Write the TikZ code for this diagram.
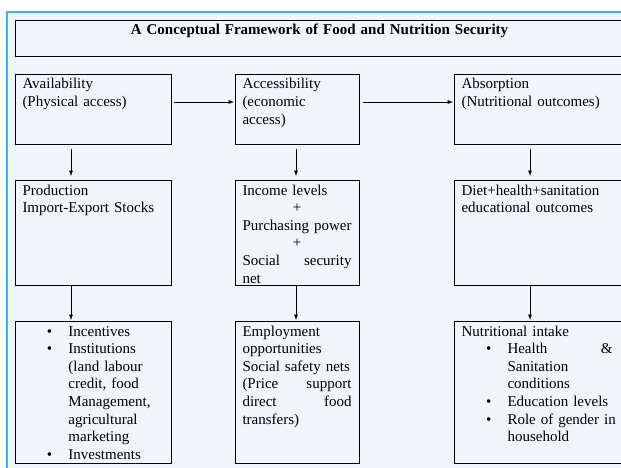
\documentclass[tikz,border=0pt]{standalone}
\usepackage{fontspec}
\setmainfont{Liberation Serif}
\usetikzlibrary{arrows}
\definecolor{frameblue}{HTML}{3FB3E5}
\definecolor{paleblue}{HTML}{EEF6FC}
\newcommand{\cellfont}{\fontsize{15pt}{17.6pt}\selectfont}
\newcommand{\bul}{\makebox[46pt][l]{\hspace*{24.5pt}\textbullet}}
\newcommand{\hang}{\hspace*{46pt}}
\tikzset{
  cell/.style={draw, line width=0.9pt, anchor=north west, outer sep=0pt, align=left,
    inner xsep=7.5pt, inner ysep=4pt, text height=11pt, font=\cellfont},
  flow/.style={line width=0.9pt, -latex},
}
\begin{document}
\begin{tikzpicture}[x=1pt,y=-1pt]
\useasboundingbox (0,0) rectangle (621,468);
\clip (0,0) rectangle (621,468);
\draw [frameblue, line width=1.5pt, fill=paleblue] (7,12) rectangle (640,480);
\node [cell, text width=594pt, text depth=17pt, align=center, font=\cellfont\bfseries] (title) at (15,20)
  {A Conceptual Framework of Food and Nutrition Security};
\node [cell, text width=141pt, text depth=51pt] (avail) at (15,74) {Availability\\(Physical access)};
\node [cell, text width=109pt, text depth=51pt] (access) at (235,74) {Accessibility\\(economic\\access)};
\node [cell, text width=160pt, text depth=51pt] (absorb) at (454,74) {Absorption\\(Nutritional outcomes)};
\node [cell, text width=141pt, text depth=86pt] (prod) at (15,180) {Production\\Import-Export Stocks};
\node [cell, text width=109pt, text depth=86pt] (income) at (235,180)
  {Income levels\\\mbox{}\hfill+\hfill\mbox{}\\\mbox{Purchasing power}\\\mbox{}\hfill+\hfill\mbox{}\\Social\hfill security\\net};
\node [cell, text width=160pt, text depth=86pt] (diet) at (454,180) {Diet+health+sanitation\\educational outcomes};
\node [cell, text width=141pt, text depth=123pt] (incent) at (15,321)
  {\bul Incentives\\\bul Institutions\\\hang(land labour\\\hang credit, food\\\hang Management,\\\hang agricultural\\\hang marketing\\\bul Investments};
\node [cell, text width=109pt, text depth=123pt] (employ) at (235,321)
  {Employment\\opportunities\\Social safety nets\\(Price\hfill support\\direct\hfill food\\transfers)};
\node [cell, text width=160pt, text depth=123pt] (intake) at (454,321)
  {Nutritional intake\\\bul Health\hfill\&\hspace*{9pt}\mbox{}\\\hang Sanitation\\\hang conditions\\\bul Education levels\\\bul \mbox{Role of gender in}\\\hang household};
\draw [flow, shorten <=2.5pt, shorten >=1pt] ([yshift=7pt]avail.east) -- ([yshift=7pt]access.west);
\draw [flow, shorten <=3.5pt, shorten >=1pt] ([yshift=7pt]access.east) -- ([yshift=7pt]absorb.west);
\draw [flow, shorten <=5pt, shorten >=4pt] ([xshift=-22pt]avail.south) -- ([xshift=-22pt]prod.north);
\draw [flow, shorten <=5pt, shorten >=4pt] ([xshift=-1pt]access.south) -- ([xshift=-1pt]income.north);
\draw [flow, shorten <=5pt, shorten >=4pt] ([xshift=-11.5pt]absorb.south) -- ([xshift=-11.5pt]diet.north);
\draw [flow, shorten <=1pt, shorten >=1pt] ([xshift=-22pt]prod.south) -- ([xshift=-22pt]incent.north);
\draw [flow, shorten <=1pt, shorten >=1pt] ([xshift=-1pt]income.south) -- ([xshift=-1pt]employ.north);
\draw [flow, shorten <=1pt, shorten >=1pt] ([xshift=-11.5pt]diet.south) -- ([xshift=-11.5pt]intake.north);
\end{tikzpicture}
\end{document}
